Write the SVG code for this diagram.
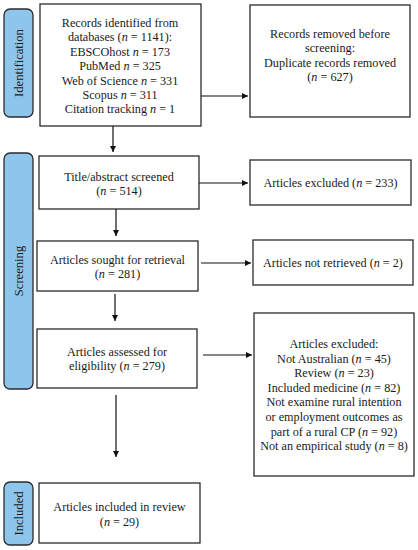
<svg xmlns="http://www.w3.org/2000/svg" width="418" height="550" viewBox="0 0 418 550">
<style>
.box{fill:#fff;stroke:#2b2b2b;stroke-width:1.3}
.bar{fill:#8ec5ea;stroke:#2b2b2b;stroke-width:1.3}
text{font-family:"Liberation Serif","Times New Roman",serif;font-size:12.2px;fill:#1a1a1a;text-anchor:middle}
.bt{font-size:12.6px}
.i{font-style:italic}
.c{stroke:#111;stroke-width:1.2;fill:none}
</style>
<defs>
<marker id="ah" viewBox="0 0 10 10" refX="10" refY="5" markerWidth="6" markerHeight="6" markerUnits="userSpaceOnUse" orient="auto">
<path d="M0,0 L10,5 L0,10 z" fill="#111"/>
</marker>
</defs>
<rect width="418" height="550" fill="#fff"/>
<g id="bar-identification"><rect class="bar" x="4" y="9" width="29" height="108" rx="6"/><text class="bt" transform="translate(22.5,63) rotate(-90)">Identification</text></g>
<g id="bar-screening"><rect class="bar" x="4" y="153" width="29" height="236" rx="6"/><text class="bt" transform="translate(22.5,271) rotate(-90)">Screening</text></g>
<g id="bar-included"><rect class="bar" x="4" y="482" width="29" height="63" rx="6"/><text class="bt" transform="translate(22.5,513.5) rotate(-90)">Included</text></g>

<g id="records"><rect class="box" x="40" y="4" width="161" height="122"/>
<text x="120" y="27">Records identified from</text>
<text x="120" y="41.4">databases (<tspan class="i">n</tspan> = 1141):</text>
<text x="120" y="55.8">EBSCOhost <tspan class="i">n</tspan> = 173</text>
<text x="120" y="70.2">PubMed <tspan class="i">n</tspan> = 325</text>
<text x="120" y="84.6">Web of Science <tspan class="i">n</tspan> = 331</text>
<text x="120" y="99">Scopus <tspan class="i">n</tspan> = 311</text>
<text x="120" y="113.4">Citation tracking <tspan class="i">n</tspan> = 1</text>
</g>
<g id="removed"><rect class="box" x="250" y="5" width="160" height="112"/>
<text x="330" y="38">Records removed before</text>
<text x="330" y="52.4">screening:</text>
<text x="330" y="66.8">Duplicate records removed</text>
<text x="330" y="81.2">(<tspan class="i">n</tspan> = 627)</text>
</g>
<g id="title-abstract"><rect class="box" x="39" y="156" width="160" height="53"/>
<text x="119" y="181">Title/abstract screened</text>
<text x="119" y="195.4">(<tspan class="i">n</tspan> = 514)</text>
</g>
<g id="excluded-233"><rect class="box" x="250" y="160" width="161" height="45"/>
<text x="330.5" y="187">Articles excluded (<tspan class="i">n</tspan> = 233)</text>
</g>
<g id="sought"><rect class="box" x="37" y="241" width="161" height="50"/>
<text x="117.5" y="264">Articles sought for retrieval</text>
<text x="117.5" y="278.4">(<tspan class="i">n</tspan> = 281)</text>
</g>
<g id="not-retrieved"><rect class="box" x="253" y="240" width="160" height="45"/>
<text x="333" y="267">Articles not retrieved (<tspan class="i">n</tspan> = 2)</text>
</g>
<g id="assessed"><rect class="box" x="37" y="329" width="160" height="59"/>
<text x="117" y="356">Articles assessed for</text>
<text x="117" y="370.4">eligibility (<tspan class="i">n</tspan> = 279)</text>
</g>
<g id="excluded-detail"><rect class="box" x="254" y="313" width="160" height="163"/>
<text x="334" y="348">Articles excluded:</text>
<text x="334" y="362.6">Not Australian (<tspan class="i">n</tspan> = 45)</text>
<text x="334" y="377.2">Review (<tspan class="i">n</tspan> = 23)</text>
<text x="334" y="391.8">Included medicine (<tspan class="i">n</tspan> = 82)</text>
<text x="334" y="406.4">Not examine rural intention</text>
<text x="334" y="421">or employment outcomes as</text>
<text x="334" y="435.6">part of a rural CP (<tspan class="i">n</tspan> = 92)</text>
<text x="334" y="450.2">Not an empirical study (<tspan class="i">n</tspan> = 8)</text>
</g>
<g id="included"><rect class="box" x="39" y="483" width="161" height="60"/>
<text x="119.5" y="511">Articles included in review</text>
<text x="119.5" y="526.4">(<tspan class="i">n</tspan> = 29)</text>
</g>

<g id="connectors">
<line class="c" x1="201" y1="96" x2="248" y2="96" marker-end="url(#ah)"/>
<line class="c" x1="113" y1="126" x2="113" y2="152" marker-end="url(#ah)"/>
<line class="c" x1="199" y1="183" x2="248" y2="183" marker-end="url(#ah)"/>
<line class="c" x1="116" y1="209" x2="116" y2="236" marker-end="url(#ah)"/>
<line class="c" x1="201" y1="263" x2="251" y2="263" marker-end="url(#ah)"/>
<line class="c" x1="115" y1="294" x2="115" y2="321" marker-end="url(#ah)"/>
<line class="c" x1="203" y1="355" x2="252" y2="355" marker-end="url(#ah)"/>
<line class="c" x1="116" y1="395" x2="116" y2="457" marker-end="url(#ah)"/>
</g>
</svg>
